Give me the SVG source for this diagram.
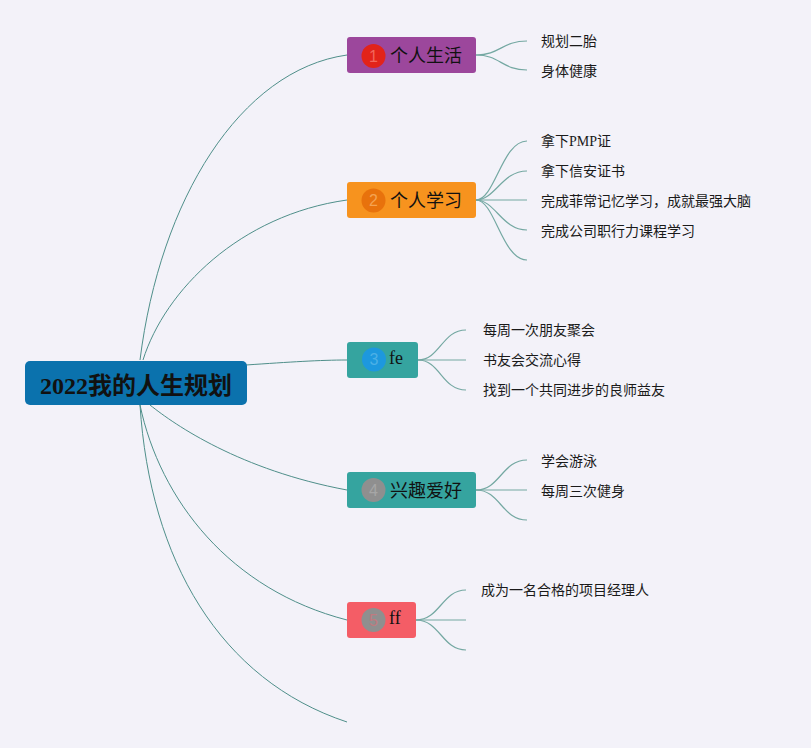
<svg xmlns="http://www.w3.org/2000/svg" width="811" height="748" viewBox="0 0 811 748">
<style>
.bg{fill:#f3f2f9}
.main{fill:none;stroke:#4f8f8a;stroke-width:1}
.sub{fill:none;stroke:#74a8a2;stroke-width:1.2}
.node rect{stroke:none}
.t{font-family:"Liberation Serif","Noto Sans CJK SC",serif;fill:#111}
.title{font-size:18px}
.leaf{font-size:14px;font-family:"Liberation Serif","Noto Sans CJK SC",serif;fill:#1a1a1a}
.num{font-family:"Liberation Sans","Noto Sans",sans-serif;font-size:16px;text-anchor:middle}
</style>
<rect class="bg" x="0" y="0" width="811" height="748"/>
<g id="connectors">
  <path class="main" d="M140,360 C160,200 240,70 347,55"/>
  <path class="main" d="M143,360 C165,290 240,215 347,200"/>
  <path class="main" d="M246,365 C290,362 320,360 347,360"/>
  <path class="main" d="M150,405 C175,425 240,470 347,490"/>
  <path class="main" d="M140,405 C160,500 230,590 347,620"/>
  <path class="main" d="M140,405 C150,560 220,680 347,722"/>
  <path class="sub" d="M476,55 C500,55 502,41 527,41"/>
  <path class="sub" d="M476,55 C500,55 502,70 527,70"/>
  <path class="sub" d="M476,200 C495,200 502,141 527,141"/>
  <path class="sub" d="M476,200 C495,200 502,171 527,171"/>
  <path class="sub" d="M476,200 L527,200"/>
  <path class="sub" d="M476,200 C495,200 502,230 527,230"/>
  <path class="sub" d="M476,200 C495,200 502,260 527,260"/>
  <path class="sub" d="M418,360 C440,360 442,330 466,330"/>
  <path class="sub" d="M418,360 L466,360"/>
  <path class="sub" d="M418,360 C440,360 442,390 466,390"/>
  <path class="sub" d="M476,490 C500,490 502,460 527,460"/>
  <path class="sub" d="M476,490 L527,490"/>
  <path class="sub" d="M476,490 C500,490 502,520 527,520"/>
  <path class="sub" d="M416,620 C440,620 442,590 466,590"/>
  <path class="sub" d="M416,620 L466,620"/>
  <path class="sub" d="M416,620 C440,620 442,650 466,650"/>
</g>
<g id="root" class="node">
  <rect x="25" y="361" width="222" height="44" rx="5" fill="#0b72ad"/>
  <text class="t" x="136" y="394" font-size="24" font-weight="bold" text-anchor="middle">2022我的人生规划</text>
</g>
<g id="n1" class="node">
  <rect x="347" y="37" width="129" height="36" rx="3" fill="#9c479c"/>
  <circle cx="373.5" cy="56" r="12" fill="#e2231a"/>
  <text class="num" x="373.5" y="61.5" fill="#f2675c">1</text>
  <text class="t title" x="390" y="62">个人生活</text>
</g>
<g id="n2" class="node">
  <rect x="347" y="182" width="129" height="36" rx="3" fill="#f7931e"/>
  <circle cx="373.5" cy="200.5" r="12" fill="#e8720c"/>
  <text class="num" x="373.5" y="206" fill="#f5a352">2</text>
  <text class="t title" x="390" y="207">个人学习</text>
</g>
<g id="n3" class="node">
  <rect x="347" y="342" width="71" height="36" rx="3" fill="#35a49f"/>
  <circle cx="374" cy="359.5" r="12" fill="#1d98de"/>
  <text class="num" x="374" y="365" fill="#4cb0e6">3</text>
  <text class="t title" x="389" y="363.5">fe</text>
</g>
<g id="n4" class="node">
  <rect x="347" y="472" width="129" height="36" rx="3" fill="#35a49f"/>
  <circle cx="373.5" cy="490" r="12" fill="#8f8f8f"/>
  <text class="num" x="373.5" y="495.5" fill="#a6a6a6">4</text>
  <text class="t title" x="390" y="497">兴趣爱好</text>
</g>
<g id="n5" class="node">
  <rect x="347" y="602" width="69" height="36" rx="3" fill="#f45d66"/>
  <circle cx="373.5" cy="620" r="12" fill="#8f8f8f"/>
  <text class="num" x="373.5" y="625.5" fill="#c07a80">5</text>
  <text class="t title" x="389" y="624">ff</text>
</g>
<g id="leaves">
  <text class="leaf" x="541" y="46">规划二胎</text>
  <text class="leaf" x="541" y="76">身体健康</text>
  <text class="leaf" x="541" y="146">拿下PMP证</text>
  <text class="leaf" x="541" y="176">拿下信安证书</text>
  <text class="leaf" x="541" y="206">完成菲常记忆学习，成就最强大脑</text>
  <text class="leaf" x="541" y="236">完成公司职行力课程学习</text>
  <text class="leaf" x="483" y="335">每周一次朋友聚会</text>
  <text class="leaf" x="483" y="365">书友会交流心得</text>
  <text class="leaf" x="483" y="395">找到一个共同进步的良师益友</text>
  <text class="leaf" x="541" y="466">学会游泳</text>
  <text class="leaf" x="541" y="496">每周三次健身</text>
  <text class="leaf" x="481" y="595">成为一名合格的项目经理人</text>
</g>
</svg>
